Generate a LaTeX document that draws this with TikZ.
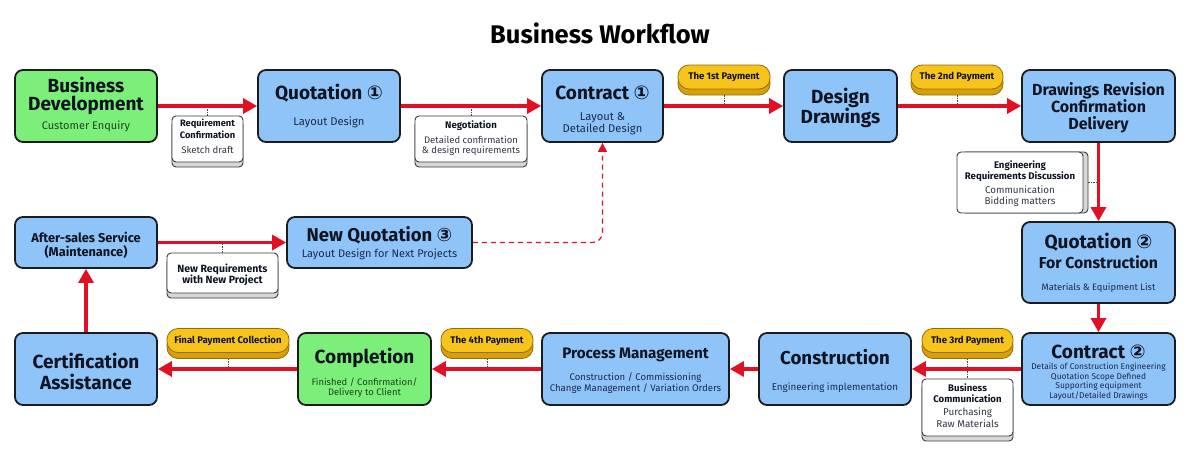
\documentclass[tikz,border=0pt]{standalone}
\usepackage{fontspec}
\IfFontExistsTF{Noto Sans Bold}{%
  \setmainfont{Noto Sans}[BoldFont={Noto Sans Bold}]%
}{%
  \setmainfont{Fira Sans}[BoldFont={Fira Sans Bold}]%
}
\newfontfamily\circf{DejaVu Sans}
\usetikzlibrary{arrows.meta,shadows}
\definecolor{boxblue}{RGB}{143,196,248}
\definecolor{boxgreen}{RGB}{124,238,122}
\definecolor{bdr}{RGB}{28,28,30}
\definecolor{flow}{RGB}{226,16,36}
\definecolor{pay}{RGB}{247,196,28}
\definecolor{paydark}{RGB}{214,160,10}
\definecolor{payline}{RGB}{150,110,10}
\definecolor{ink}{RGB}{15,20,35}
\definecolor{subink}{RGB}{28,42,78}
\definecolor{greenink}{RGB}{30,70,30}
\definecolor{cardline}{RGB}{60,60,60}
\definecolor{cardshade}{RGB}{215,215,215}
\definecolor{dotc}{RGB}{70,70,70}
\newcommand\cdig[1]{{\circf\bfseries #1}}
\newcommand\fs[1]{\fontsize{#1}{#1}\selectfont}
\tikzset{
  box/.style={draw=bdr, line width=1.8pt, rounded corners=8pt, inner sep=0pt},
  bluebox/.style={box, fill=boxblue},
  greenbox/.style={box, fill=boxgreen},
  card/.style={draw=cardline, line width=0.9pt, fill=white, rounded corners=4pt, inner sep=0pt,
    copy shadow={shadow xshift=0pt, shadow yshift=-5pt, fill=cardshade, draw=cardline, line width=0.9pt}},
  sidecard/.style={draw=cardline, line width=0.9pt, fill=white, rounded corners=4pt, inner sep=0pt,
    copy shadow={shadow xshift=5pt, shadow yshift=0pt, fill=cardshade, draw=cardline, line width=0.9pt}},
  pill/.style={draw=payline, line width=0.8pt, fill=pay, rounded corners=11pt, inner sep=0pt,
    minimum height=24pt, font=\bfseries\fs{9.6}, text=ink,
    copy shadow={shadow xshift=0pt, shadow yshift=-6pt, fill=paydark, draw=payline, line width=0.8pt}},
  flowarrow/.style={draw=flow, line width=3.2pt, -{Triangle[length=14pt,width=15pt]}},
  dasharrow/.style={draw=flow, line width=1.2pt, dash pattern=on 5pt off 4pt, rounded corners=10pt,
    -{Triangle[length=9pt,width=9pt]}},
  dotline/.style={draw=dotc, line width=0.9pt, dash pattern=on 1.2pt off 1.3pt},
  hd/.style={anchor=base, inner sep=0pt, text=ink, font=\bfseries\fs{19}},
  hdm/.style={anchor=base, inner sep=0pt, text=ink, font=\bfseries\fs{16}},
  sb/.style={anchor=base, inner sep=0pt, text=subink, font=\fs{11.2}},
  gsb/.style={anchor=base, inner sep=0pt, text=greenink, font=\fs{11}},
  nb/.style={anchor=base, inner sep=0pt, text=ink, font=\bfseries\fs{9.6}},
  nr/.style={anchor=base, inner sep=0pt, text=ink!85, font=\fs{9.5}},
}
\begin{document}
\begin{tikzpicture}[x=1pt,y=-1pt]
\useasboundingbox[fill=white] (0,0) rectangle (1200,455);
% title
\node[anchor=base, inner sep=0pt, text=black, font=\bfseries\fs{25.5}] (title) at (600,43) {Business Workflow};

% main boxes
\node[greenbox, minimum width=142, minimum height=72] (bd) at (86,106) {};
\node[bluebox, minimum width=142, minimum height=72] (q1) at (329,106) {};
\node[bluebox, minimum width=121, minimum height=72] (c1) at (602.5,106) {};
\node[bluebox, minimum width=113, minimum height=72] (dd) at (840.5,106) {};
\node[bluebox, minimum width=153, minimum height=72] (dr) at (1098.5,106) {};
\node[bluebox, minimum width=153, minimum height=81] (q2) at (1098.5,262.5) {};
\node[bluebox, minimum width=153, minimum height=72] (c2) at (1098.5,369) {};
\node[bluebox, minimum width=152, minimum height=72] (cons) at (835,369) {};
\node[bluebox, minimum width=187, minimum height=72] (pm) at (635.5,369) {};
\node[greenbox, minimum width=133, minimum height=72] (comp) at (364.5,369) {};
\node[bluebox, minimum width=142, minimum height=72] (cert) at (86,369) {};
\node[bluebox, minimum width=142, minimum height=51] (as) at (86,242.5) {};
\node[bluebox, minimum width=185, minimum height=51] (nq) at (379.5,242.5) {};

% box texts
\node[hd] (bd-a) at (86,92) {Business};
\node[hd] (bd-b) at (86,110) {Development};
\node[gsb] (bd-c) at (86,129) {Customer Enquiry};
\node[hd] (q1-a) at (329,99) {Quotation \cdig{①}};
\node[sb] (q1-b) at (329,125) {Layout Design};
\node[hd] (c1-a) at (602.5,99) {Contract \cdig{①}};
\node[sb] (c1-b) at (602.5,120) {Layout \&};
\node[sb] (c1-c) at (602.5,132) {Detailed Design};
\node[hd] (dd-a) at (840.5,103) {Design};
\node[hd] (dd-b) at (840.5,123) {Drawings};
\node[hdm] (dr-a) at (1098.5,95) {Drawings Revision};
\node[hdm] (dr-b) at (1098.5,112) {Confirmation};
\node[hdm] (dr-c) at (1098.5,129) {Delivery};
\node[hd] (q2-a) at (1098.5,248) {Quotation \cdig{②}};
\node[hdm, font=\bfseries\fs{15.8}] (q2-b) at (1098.5,268) {For Construction};
\node[sb, font=\fs{9.3}] (q2-c) at (1098.5,290) {Materials \& Equipment List};
\node[hd] (c2-a) at (1098.5,358) {Contract \cdig{②}};
\node[sb, font=\fs{8.4}] (c2-b) at (1098.5,369) {Details of Construction Engineering};
\node[sb, font=\fs{8.4}] (c2-c) at (1098.5,379) {Quotation Scope Defined};
\node[sb, font=\fs{8.4}] (c2-d) at (1098.5,388.5) {Supporting equipment};
\node[sb, font=\fs{8.4}] (c2-e) at (1098.5,398) {Layout/Detailed Drawings};
\node[hd, font=\bfseries\fs{18.7}] (cons-a) at (835,364) {Construction};
\node[sb, font=\fs{9.8}] (cons-b) at (835,390) {Engineering implementation};
\node[hd, font=\bfseries\fs{15.2}] (pm-a) at (635.5,358) {Process Management};
\node[sb, font=\fs{9.6}] (pm-b) at (635.5,380) {Construction / Commissioning};
\node[sb, font=\fs{9.6}] (pm-c) at (635.5,391) {Change Management / Variation Orders};
\node[hd] (comp-a) at (364.5,363) {Completion};
\node[gsb, font=\fs{9.4}] (comp-b) at (364.5,385) {Finished / Confirmation/};
\node[gsb, font=\fs{9.4}] (comp-c) at (364.5,395.5) {Delivery to Client};
\node[hd] (cert-a) at (86,368) {Certification};
\node[hd] (cert-b) at (86,389) {Assistance};
\node[hd, font=\bfseries\fs{12.8}] (as-a) at (86,242) {After-sales Service};
\node[hd, font=\bfseries\fs{12.8}] (as-b) at (86,256) {(Maintenance)};
\node[hd, font=\bfseries\fs{18.5}] (nq-a) at (379.5,241) {New Quotation \cdig{③}};
\node[sb, font=\fs{11}] (nq-b) at (379.5,257) {Layout Design for Next Projects};

% note cards
\node[card, minimum width=71, minimum height=46] (n1) at (207.5,139) {};
\node[card, minimum width=112, minimum height=46] (n2) at (471,139) {};
\node[sidecard, minimum width=126, minimum height=61] (n3) at (1020,182.5) {};
\node[card, minimum width=111, minimum height=40] (n4) at (222.5,273) {};
\node[card, minimum width=91, minimum height=57] (n5) at (967.5,407.5) {};

\node[nb, font=\bfseries\fs{9.3}] (n1-a) at (207.5,126.7) {Requirement};
\node[nb, font=\bfseries\fs{9.3}] (n1-b) at (207.5,138) {Confirmation};
\node[nr, font=\fs{9.6}] (n1-c) at (207.5,153) {Sketch draft};
\node[nb] (n2-a) at (471,128) {Negotiation};
\node[nr] (n2-b) at (471,143) {Detailed confirmation};
\node[nr] (n2-c) at (471,153.5) {\& design requirements};
\node[nb] (n3-a) at (1020,168) {Engineering};
\node[nb] (n3-b) at (1020,179) {Requirements Discussion};
\node[nr, font=\fs{9.8}] (n3-c) at (1020,193) {Communication};
\node[nr, font=\fs{9.8}] (n3-d) at (1020,204) {Bidding matters};
\node[nb, font=\bfseries\fs{10.5}] (n4-a) at (222.5,272) {New Requirements};
\node[nb, font=\bfseries\fs{10.5}] (n4-b) at (222.5,283.5) {with New Project};
\node[nb] (n5-a) at (967.5,391) {Business};
\node[nb] (n5-b) at (967.5,402) {Communication};
\node[nr, font=\fs{9.9}] (n5-c) at (967.5,415) {Purchasing};
\node[nr, font=\fs{9.9}] (n5-d) at (967.5,427) {Raw Materials};

% payment pills
\node[pill, minimum width=92] (p1) at (724,77) {The 1st Payment};
\node[pill, minimum width=92] (p2) at (957,77) {The 2nd Payment};
\node[pill, minimum width=91] (p3) at (967.5,340.5) {The 3rd Payment};
\node[pill, minimum width=92] (p4) at (487,340.5) {The 4th Payment};
\node[pill, minimum width=122] (p5) at (228,340.5) {Final Payment Collection};

% dotted links
\draw[dotline] (n1.north) -- (n1.north |- bd.east);
\draw[dotline] (n2.north) -- (n2.north |- q1.east);
\draw[dotline] ([yshift=-6pt]p1.south) -- (p1.south |- c1.east);
\draw[dotline] ([yshift=-6pt]p2.south) -- (p2.south |- dd.east);
\draw[dotline] ([xshift=5pt]n3.east) -- (n3.east -| dr.south);
\draw[dotline] (n4.north) -- (n4.north |- as.east);
\draw[dotline] ([yshift=-6pt]p3.south) -- (n5.north);
\draw[dotline] ([yshift=-6pt]p4.south) -- (p4.south |- comp.east);
\draw[dotline] ([yshift=-6pt]p5.south) -- (p5.south |- cert.east);

% flow arrows
\draw[flowarrow] (bd.east) -- (q1.west);
\draw[flowarrow] (q1.east) -- (c1.west);
\draw[flowarrow] (c1.east) -- (dd.west);
\draw[flowarrow] (dd.east) -- (dr.west);
\draw[flowarrow] (dr.south) -- (q2.north);
\draw[flowarrow] (q2.south) -- (c2.north);
\draw[flowarrow] (c2.west) -- (cons.east);
\draw[flowarrow] (cons.west) -- (pm.east);
\draw[flowarrow] (pm.west) -- (comp.east);
\draw[flowarrow] (comp.west) -- (cert.east);
\draw[flowarrow] (cert.north) -- (as.south);
\draw[flowarrow] (as.east) -- (nq.west);
\draw[dasharrow] (nq.east) -| (c1.south);
\end{tikzpicture}
\end{document}
